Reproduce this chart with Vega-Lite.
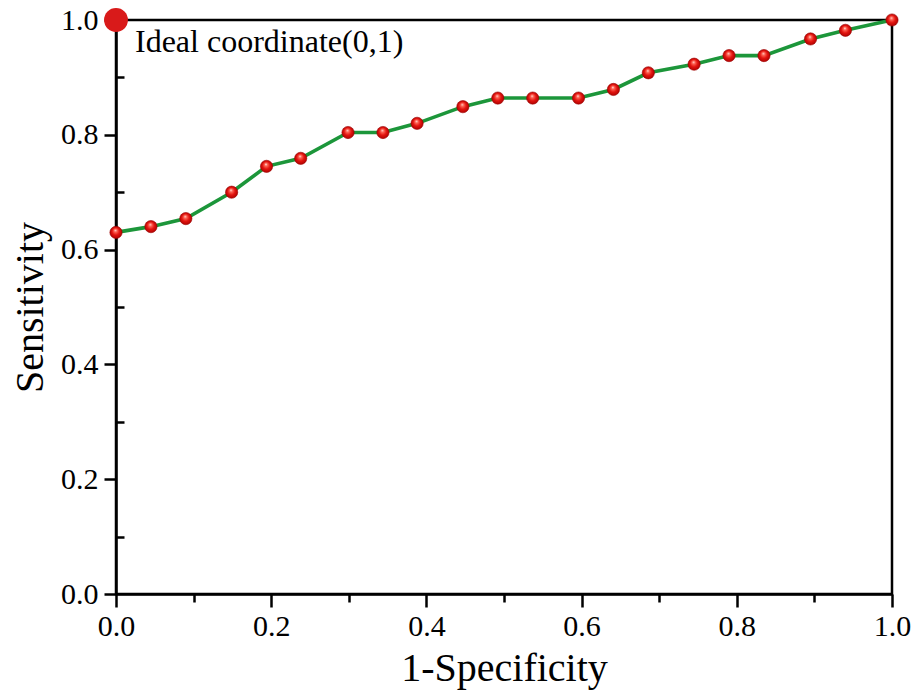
{
  "$schema": "https://vega.github.io/schema/vega-lite/v6.json",
  "autosize": "none",
  "width": 776,
  "height": 574,
  "padding": {"left": 116, "top": 20, "right": 31, "bottom": 96},
  "background": "white",
  "config": {
    "font": "Liberation Serif",
    "view": {"stroke": "black", "strokeWidth": 2.5},
    "axis": {
      "domainColor": "black",
      "domainWidth": 2.5,
      "tickColor": "black",
      "tickWidth": 2.5,
      "grid": false,
      "labelFont": "Liberation Serif",
      "labelFontSize": 30,
      "labelColor": "black",
      "titleFont": "Liberation Serif",
      "titleFontSize": 40,
      "titleFontWeight": "normal",
      "titleColor": "black",
      "labelFlush": false,
      "labelOverlap": false,
      "labelBound": false
    }
  },
  "datasets": {
    "roc": [
      {"fpr": 0.0, "tpr": 0.63},
      {"fpr": 0.045, "tpr": 0.64},
      {"fpr": 0.09, "tpr": 0.654},
      {"fpr": 0.149, "tpr": 0.70},
      {"fpr": 0.194, "tpr": 0.745},
      {"fpr": 0.238, "tpr": 0.759},
      {"fpr": 0.299, "tpr": 0.804},
      {"fpr": 0.344, "tpr": 0.804},
      {"fpr": 0.388, "tpr": 0.82},
      {"fpr": 0.447, "tpr": 0.849},
      {"fpr": 0.492, "tpr": 0.864},
      {"fpr": 0.537, "tpr": 0.864},
      {"fpr": 0.596, "tpr": 0.864},
      {"fpr": 0.641, "tpr": 0.879},
      {"fpr": 0.686, "tpr": 0.908},
      {"fpr": 0.745, "tpr": 0.923},
      {"fpr": 0.79, "tpr": 0.938},
      {"fpr": 0.835, "tpr": 0.938},
      {"fpr": 0.895, "tpr": 0.967},
      {"fpr": 0.94, "tpr": 0.982},
      {"fpr": 1.0, "tpr": 1.0}
    ],
    "ideal": [
      {"fpr": 0, "tpr": 1, "label": "Ideal coordinate(0,1)"}
    ]
  },
  "resolve": {"axis": {"x": "independent", "y": "independent"}},
  "layer": [
    {
      "data": {"name": "roc"},
      "mark": {"type": "line", "color": "#1c963a", "strokeWidth": 3.6},
      "encoding": {
        "x": {
          "field": "fpr", "type": "quantitative",
          "scale": {"domain": [0, 1], "nice": false, "zero": false},
          "axis": {
            "orient": "bottom",
            "values": [0, 0.2, 0.4, 0.6, 0.8, 1.0],
            "format": ".1f",
            "tickSize": 13,
            "labelPadding": 4,
            "title": "1-Specificity",
            "titleX": 388,
            "titleY": 86,
            "titleBaseline": "alphabetic"
          }
        },
        "y": {
          "field": "tpr", "type": "quantitative",
          "scale": {"domain": [0, 1], "nice": false, "zero": false},
          "axis": {
            "orient": "left",
            "values": [0, 0.2, 0.4, 0.6, 0.8, 1.0],
            "format": ".1f",
            "tickSize": 12,
            "labelPadding": 6,
            "title": "Sensitivity",
            "titleX": -74,
            "titleY": 287,
            "titleBaseline": "alphabetic"
          }
        }
      }
    },
    {
      "data": {"name": "roc"},
      "mark": {
        "type": "point",
        "filled": true,
        "size": 150,
        "opacity": 1,
        "stroke": "#9a0000",
        "strokeWidth": 0.6,
        "fill": {
          "gradient": "radial",
          "x1": 0.45, "y1": 0.32, "r1": 0,
          "x2": 0.5, "y2": 0.5, "r2": 0.55,
          "stops": [
            {"offset": 0, "color": "#fff2f0"},
            {"offset": 0.2, "color": "#ff6a5a"},
            {"offset": 0.55, "color": "#e3140f"},
            {"offset": 1, "color": "#a80000"}
          ]
        }
      },
      "encoding": {
        "x": {
          "field": "fpr", "type": "quantitative",
          "scale": {"domain": [0, 1], "nice": false, "zero": false},
          "axis": {
            "orient": "bottom",
            "values": [0.1, 0.3, 0.5, 0.7, 0.9],
            "tickSize": 8,
            "labels": false,
            "domain": false,
            "title": null
          }
        },
        "y": {
          "field": "tpr", "type": "quantitative",
          "scale": {"domain": [0, 1], "nice": false, "zero": false},
          "axis": {
            "orient": "left",
            "values": [0.1, 0.3, 0.5, 0.7, 0.9],
            "tickSize": 8,
            "offset": -8,
            "labels": false,
            "domain": false,
            "title": null
          }
        }
      }
    },
    {
      "data": {"name": "ideal"},
      "mark": {"type": "point", "filled": true, "size": 570, "opacity": 1, "color": "#d91a1a"},
      "encoding": {
        "x": {"field": "fpr", "type": "quantitative", "scale": {"domain": [0, 1], "nice": false, "zero": false}, "axis": null},
        "y": {"field": "tpr", "type": "quantitative", "scale": {"domain": [0, 1], "nice": false, "zero": false}, "axis": null}
      }
    },
    {
      "data": {"name": "ideal"},
      "mark": {
        "type": "text",
        "align": "left",
        "baseline": "alphabetic",
        "dx": 19,
        "dy": 32,
        "fontSize": 32,
        "font": "Liberation Serif",
        "color": "black"
      },
      "encoding": {
        "x": {"field": "fpr", "type": "quantitative", "scale": {"domain": [0, 1], "nice": false, "zero": false}, "axis": null},
        "y": {"field": "tpr", "type": "quantitative", "scale": {"domain": [0, 1], "nice": false, "zero": false}, "axis": null},
        "text": {"field": "label"}
      }
    }
  ]
}
